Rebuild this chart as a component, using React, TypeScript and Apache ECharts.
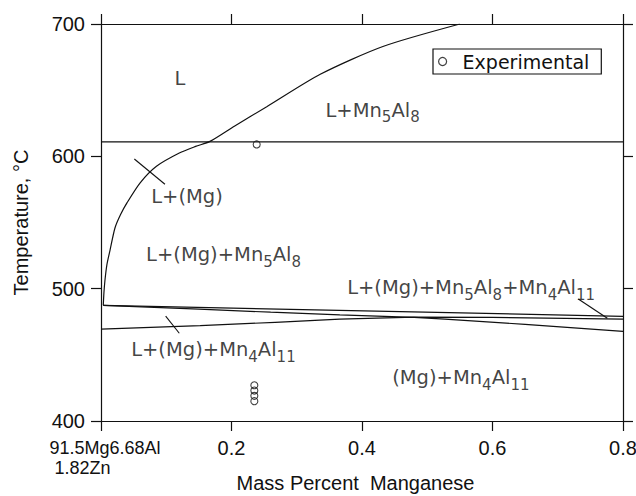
import React, { useEffect, useRef } from "react";
import * as echarts from "echarts";

// ---- data ----
const xTicks = [0, 0.2, 0.4, 0.6, 0.8];
const yTicks = [400, 500, 600, 700];
const baseComposition = ["91.5Mg6.68Al", "1.82Zn"];
const xTitle = "Mass Percent  Manganese";
const yTitle = "Temperature, °C";
const legendName = "Experimental";

// liquidus (L / L+(Mg) and L / L+Mn5Al8)
const liquidus: [number, number][] = [
  [0.0035, 487.4], [0.0045, 497], [0.006, 506], [0.009, 518], [0.0138, 529],
  [0.0215, 546], [0.03, 556], [0.04, 565], [0.06, 580], [0.085, 592.5],
  [0.12, 602.5], [0.145, 607.5], [0.167, 611.3], [0.205, 623], [0.254, 637.5],
  [0.336, 662], [0.432, 683], [0.55, 700],
];
// invariant line at ~611 °C
const invariant611: [number, number][] = [[0, 611], [0.8, 611]];
// upper solidus-type line
const upperLine: [number, number][] = [[0.0035, 487.4], [0.8, 479.1]];
// line descending to the right
const descendingLine: [number, number][] = [
  [0.0035, 487.4], [0.15, 484.6], [0.26, 482.2], [0.366, 480.2],
  [0.48, 478.3], [0.527, 477], [0.65, 473], [0.8, 467.8],
];
// line rising from the left axis
const risingLine: [number, number][] = [
  [0, 469.5], [0.152, 472], [0.267, 474.6], [0.366, 477],
  [0.48, 478.5], [0.6, 478.3], [0.8, 477],
];
// leader lines for labels
const leaderA: [number, number][] = [[0.0511, 598], [0.098, 578.9]];
const leaderB: [number, number][] = [[0.0991, 479.3], [0.12, 466.3]];
const leaderC: [number, number][] = [[0.7315, 492.2], [0.776, 477.6]];

// experimental points
const experimental: [number, number][] = [
  [0.2386, 609], [0.235, 427], [0.235, 423], [0.235, 419], [0.235, 415],
];

// phase-region labels (left edge x, vertical centre y)
const regionText = [
  "{a|L}",
  "{a|L+Mn}{s|5}{a|Al}{s|8}",
  "{a|L+(Mg)}",
  "{a|L+(Mg)+Mn}{s|5}{a|Al}{s|8}",
  "{a|L+(Mg)+Mn}{s|5}{a|Al}{s|8}{a|+Mn}{s|4}{a|Al}{s|11}",
  "{a|L+(Mg)+Mn}{s|4}{a|Al}{s|11}",
  "{a|(Mg)+Mn}{s|4}{a|Al}{s|11}",
];
const regionX = [0.1134, 0.3448, 0.0777, 0.0699, 0.378, 0.047, 0.447];
const regionY = [658.4, 634.3, 569.5, 525.4, 500.3, 453.4, 432.3];

const INK = "#111";
const AXIS_FONT = "Liberation Sans, Arial, sans-serif";
const PLOT_FONT = "DejaVu Sans, Verdana, sans-serif";

function lineSeries(data: [number, number][], width = 1.2, smooth: number | boolean = false) {
  return {
    type: "line",
    data,
    showSymbol: false,
    symbol: "none",
    silent: true,
    smooth,
    lineStyle: { color: INK, width },
    z: 3,
  };
}

export default function App() {
  const ref = useRef<HTMLDivElement>(null);

  useEffect(() => {
    if (!ref.current) return;
    const chart = echarts.init(ref.current, undefined, { renderer: "svg" });

    const axisLineStyle = { lineStyle: { color: INK, width: 1.2 } };
    const tickStyle = { show: true, inside: false, length: 10, lineStyle: { color: INK, width: 1.2 } };

    const option: any = {
      animation: false,
      backgroundColor: "#fff",
      grid: { left: 101, right: 13, top: 24, bottom: 75, containLabel: false, outerBoundsMode: "none" },
      legend: {
        data: [legendName],
        left: 433,
        top: 49,
        orient: "horizontal",
        borderColor: INK,
        borderWidth: 1.2,
        padding: [3, 12, 3, 5],
        itemWidth: 30,
        itemHeight: 8,
        icon: "circle",
        itemStyle: { color: "rgba(0,0,0,0)", borderColor: INK, borderWidth: 1.2 },
        textStyle: { fontFamily: PLOT_FONT, fontSize: 19, color: INK },
        selectedMode: false,
      },
      xAxis: [
        {
          type: "value",
          position: "bottom",
          min: xTicks[0],
          max: xTicks[xTicks.length - 1],
          interval: 0.2,
          name: xTitle,
          nameLocation: "middle",
          nameGap: 52,
          nameMoveOverlap: false,
          nameTextStyle: { fontFamily: AXIS_FONT, fontSize: 20, color: INK, padding: [0, 13, 0, 0] },
          axisLine: { show: true, onZero: false, ...axisLineStyle },
          axisTick: tickStyle,
          splitLine: { show: false },
          axisLabel: {
            show: true,
            margin: 17,
            showMinLabel: true,
            showMaxLabel: true,
            hideOverlap: false,
            fontFamily: AXIS_FONT,
            fontSize: 20,
            color: INK,
            formatter: (v: number) =>
              v === 0
                ? `{a|${baseComposition[0]}}\n{b|${baseComposition[1]}}`
                : v.toFixed(1),
            rich: {
              a: { fontFamily: AXIS_FONT, fontSize: 18, color: INK, lineHeight: 20, padding: [0, 0, 0, 8] },
              b: { fontFamily: AXIS_FONT, fontSize: 18, color: INK, lineHeight: 20, padding: [0, 37, 0, 0] },
            },
          },
        },
        {
          type: "value",
          position: "top",
          min: xTicks[0],
          max: xTicks[xTicks.length - 1],
          interval: 0.2,
          axisLine: { show: true, onZero: false, ...axisLineStyle },
          axisTick: tickStyle,
          axisLabel: { show: false },
          splitLine: { show: false },
        },
      ],
      yAxis: [
        {
          type: "value",
          position: "left",
          min: yTicks[0],
          max: yTicks[yTicks.length - 1],
          interval: 100,
          name: yTitle,
          nameLocation: "middle",
          nameGap: 70,
          nameMoveOverlap: false,
          nameTextStyle: { fontFamily: AXIS_FONT, fontSize: 20, color: INK },
          axisLine: { show: true, onZero: false, ...axisLineStyle },
          axisTick: tickStyle,
          splitLine: { show: false },
          axisLabel: { show: true, margin: 16, fontFamily: AXIS_FONT, fontSize: 20, color: INK },
        },
        {
          type: "value",
          position: "right",
          min: yTicks[0],
          max: yTicks[yTicks.length - 1],
          interval: 100,
          axisLine: { show: true, onZero: false, ...axisLineStyle },
          axisTick: tickStyle,
          axisLabel: { show: false },
          splitLine: { show: false },
        },
      ],
      series: [
        lineSeries(liquidus, 1.2, 0.25),
        lineSeries(invariant611),
        lineSeries(upperLine),
        lineSeries(descendingLine),
        lineSeries(risingLine),
        lineSeries(leaderA, 1.1),
        lineSeries(leaderB, 1.1),
        lineSeries(leaderC, 1.1),
        {
          name: legendName,
          type: "scatter",
          data: experimental,
          symbol: "circle",
          symbolSize: 7,
          itemStyle: { color: "rgba(0,0,0,0)", borderColor: INK, borderWidth: 1.1 },
          z: 4,
        },
        {
          name: "regions",
          type: "scatter",
          silent: true,
          symbolSize: 1,
          itemStyle: { color: "rgba(0,0,0,0)" },
          data: regionText.map((t, i) => ({ value: [regionX[i], regionY[i]], name: t })),
          label: {
            show: true,
            position: [0, 0],
            align: "left",
            verticalAlign: "middle",
            formatter: (p: any) => p.name,
            rich: {
              a: { fontFamily: PLOT_FONT, fontSize: 19.5, color: INK, lineHeight: 22 },
              s: { fontFamily: PLOT_FONT, fontSize: 15, color: INK, padding: [14, 0, 0, 0] },
            },
          },
          z: 5,
        },
      ],
    };

    chart.setOption(option);
    return () => chart.dispose();
  }, []);

  return (
    <div
      ref={ref}
      style={{ position: "fixed", left: 0, top: 0, width: 636, height: 496, background: "#fff" }}
    />
  );
}
